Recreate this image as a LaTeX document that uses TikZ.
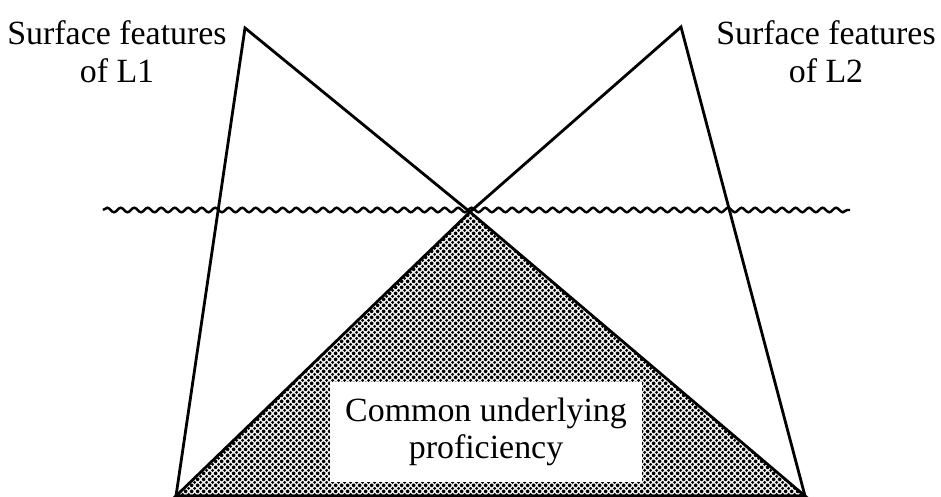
\documentclass[tikz,border=0pt]{standalone}
\usepackage{fontspec}
\setmainfont{Liberation Serif}
\usetikzlibrary{patterns,decorations.pathmorphing}

% halftone screen for the shared part
\pgfdeclarepatternformonly{halftone}{\pgfqpoint{0pt}{0pt}}{\pgfqpoint{3.2pt}{3.2pt}}{\pgfqpoint{3.2pt}{3.2pt}}{
  \pgfpathcircle{\pgfqpoint{0pt}{0pt}}{1.0pt}
  \pgfpathcircle{\pgfqpoint{3.2pt}{0pt}}{1.0pt}
  \pgfpathcircle{\pgfqpoint{0pt}{3.2pt}}{1.0pt}
  \pgfpathcircle{\pgfqpoint{3.2pt}{3.2pt}}{1.0pt}
  \pgfpathcircle{\pgfqpoint{1.6pt}{1.6pt}}{1.0pt}
  \pgfusepath{fill}}

\begin{document}
\begin{tikzpicture}[x=0.02cm, y=-0.02cm, line width=1.6pt,
  caption/.style={align=center, font=\fontsize{19.3}{21.5}\selectfont},
  wave/.style={decorate, decoration={snake, segment length=0.27cm, amplitude=0.045cm}, line width=1.4pt}]
\useasboundingbox (0,0) rectangle (941,497);

\coordinate (apexL1) at (245,28);
\coordinate (apexL2) at (681,27);
\coordinate (meet) at (470,212);
\coordinate (baseL) at (176,496);
\coordinate (baseR) at (805,496);
\coordinate (waveL) at (103,210);
\coordinate (waveR) at (850,210);

% common part below the waterline
\fill[pattern=halftone] (meet) -- (baseL) -- (baseR) -- cycle;
\node[caption, fill=white, minimum width=6.26cm, minimum height=2cm] (cup) at (486,432)
  {Common underlying\\proficiency};

% the two icebergs
\draw (apexL1) -- (baseL) -- (baseR) -- (meet) -- cycle;
\draw (apexL2) -- (baseR) -- (baseL) -- (meet) -- cycle;

\draw[wave] (waveL) -- (waveR);

\node[caption] (surfL1) at (117,52) {Surface features\\of L1};
\node[caption] (surfL2) at (826,52) {Surface features\\of L2};
\end{tikzpicture}
\end{document}
